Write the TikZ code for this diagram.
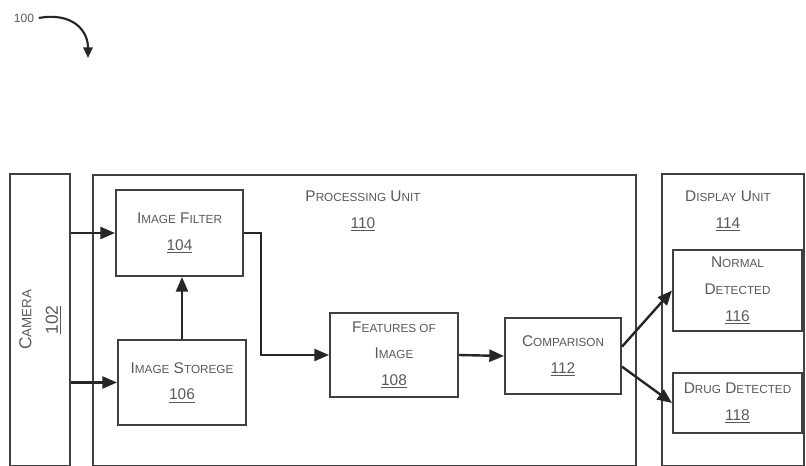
\documentclass[tikz,border=0pt]{standalone}
\usepackage{fontspec}
\setmainfont{Liberation Sans}
\usetikzlibrary{arrows.meta}
\newcommand{\capsc}[2]{#1{\fontsize{8.8}{20}\selectfont #2}}
\tikzset{
  blk/.style={draw=black!75, line width=1.5pt, text=black!65, align=center,
    inner sep=0pt, font=\fontsize{11.6}{20}\selectfont},
  lbl/.style={text=black!65, align=center, font=\fontsize{11.6}{20}\selectfont},
  arr/.style={-{Triangle[length=11pt,width=9pt]}, line width=1.8pt, draw=black!85}
}
\begin{document}
\begin{tikzpicture}[x=0.75pt,y=-0.75pt]
  \useasboundingbox (0,0) rectangle (806,466);
  % reference number
  \node[text=black!65, font=\fontsize{9}{10}\selectfont] (ref) at (24,18) {100};
  \coordinate (reftip) at (88,58);
  \draw[-{Triangle[length=8pt,width=7pt]}, line width=1.6pt, draw=black!85]
    (ref.east) .. controls (72,12) and (88,30) .. (reftip);
  % outer blocks
  \node[blk, minimum width=219pt, minimum height=45pt, rotate=90,
    font=\fontsize{13}{20}\selectfont] (cam) at (40,320)
    {C{\fontsize{10}{20}\selectfont AMERA}\\\underline{102}};
  \node[blk, minimum width=407.25pt, minimum height=218.25pt] (proc) at (364.5,320.5) {};
  \node[lbl] (proclbl) at (363,211)
    {\capsc{P}{ROCESSING} \capsc{U}{NIT}\\\underline{110}};
  \node[blk, minimum width=106.5pt, minimum height=219pt] (disp) at (733,320) {};
  \node[lbl] (displbl) at (728,211)
    {\capsc{D}{ISPLAY} \capsc{U}{NIT}\\\underline{114}};
  % inner blocks
  \node[blk, minimum width=95.25pt, minimum height=64.5pt] (filt) at (179.5,233)
    {\capsc{I}{MAGE} \capsc{F}{ILTER}\\\underline{104}};
  \node[blk, minimum width=96pt, minimum height=63.75pt] (stor) at (182,382.5)
    {\capsc{I}{MAGE} \capsc{S}{TOREGE}\\\underline{106}};
  \node[blk, minimum width=96pt, minimum height=63pt] (feat) at (394,355)
    {\capsc{F}{EATURES OF}\\\capsc{I}{MAGE}\\\underline{108}};
  \node[blk, minimum width=87pt, minimum height=57pt] (comp) at (563,356)
    {\capsc{C}{OMPARISON}\\\underline{112}};
  \node[blk, minimum width=96.75pt, minimum height=60.75pt] (norm) at (737.5,290.5)
    {\capsc{N}{ORMAL}\\\capsc{D}{ETECTED}\\\underline{116}};
  \node[blk, minimum width=96.75pt, minimum height=45pt] (drug) at (737.5,403)
    {\capsc{D}{RUG} \capsc{D}{ETECTED}\\\underline{118}};
  % connectors
  \draw[arr] (cam.south |- filt.west) -- (filt.west);
  \draw[arr] (cam.south |- stor.west) -- (stor.west);
  \draw[arr] (stor.north) -- (stor.north |- filt.south);
  \draw[arr] (filt.east) -- ++(17,0) |- (feat.west);
  \draw[arr] (feat.east) -- (comp.west);
  \draw[arr] ([yshift=7pt]comp.east) -- (norm.west);
  \draw[arr] ([yshift=-8pt]comp.east) -- (drug.west);
\end{tikzpicture}
\end{document}
